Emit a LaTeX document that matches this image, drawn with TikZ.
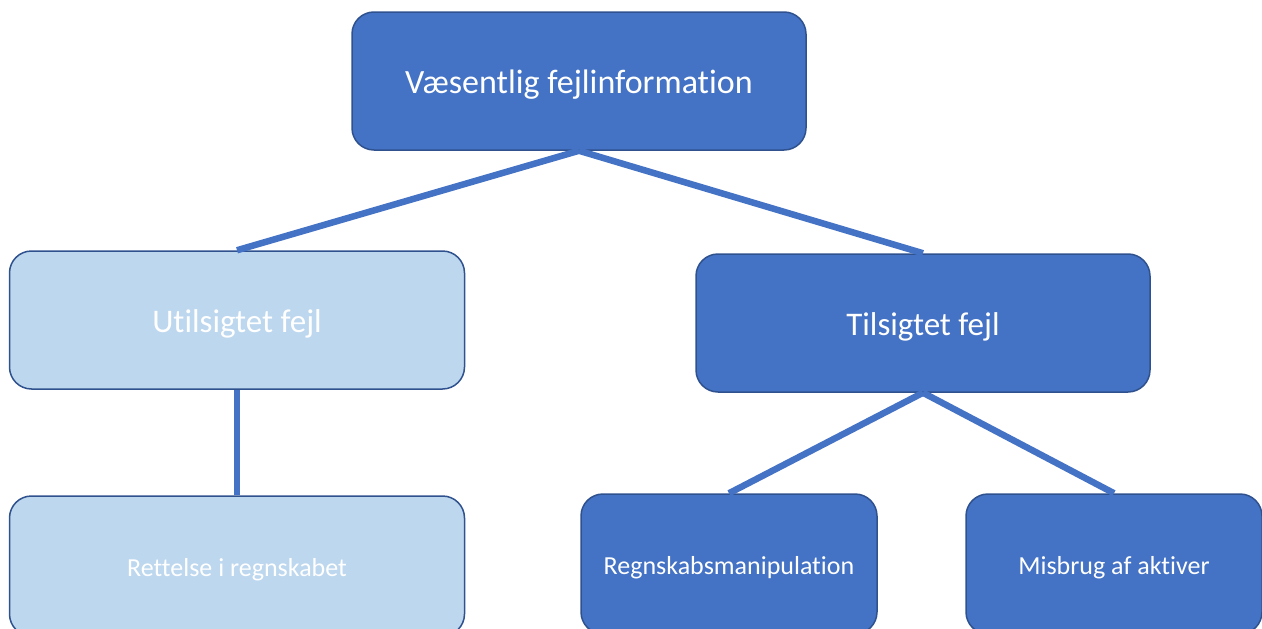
\documentclass[tikz,border=0pt]{standalone}
\usepackage{fontspec}
\setmainfont{Carlito}[Ligatures={NoCommon}]
\definecolor{dkblue}{HTML}{4472C4}
\definecolor{ltblue}{HTML}{BDD7EE}
\definecolor{edgeblue}{HTML}{2F528F}
\tikzset{
  box/.style={draw=edgeblue, line width=1.5pt, rounded corners=22pt, text=white, inner sep=0pt, anchor=center},
  bigtext/.style={font=\fontsize{34}{40}\selectfont, text height=32pt, text depth=7pt},
  midtext/.style={font=\fontsize{33}{40}\selectfont, text height=31pt, text depth=7pt},
  smalltext/.style={font=\fontsize{26}{30}\selectfont, text height=25.5pt, text depth=5.3pt},
  darkbox/.style={box, fill=dkblue},
  lightbox/.style={box, fill=ltblue},
  link/.style={draw=dkblue, line width=6.5pt},
}
\begin{document}
\begin{tikzpicture}[x=1pt,y=-1pt]
\useasboundingbox (0,0) rectangle (1262,629);
\clip (0,0) rectangle (1262,629);
\node[darkbox, bigtext, minimum width=454pt, minimum height=138pt] (top) at (579,81) {Væsentlig fejlinformation};
\node[lightbox, midtext, minimum width=455pt, minimum height=138pt] (utl) at (237,320) {Utilsigtet fejl};
\node[darkbox, midtext, minimum width=454pt, minimum height=138pt] (til) at (923,323) {Tilsigtet fejl};
\node[lightbox, smalltext, minimum width=455pt, minimum height=140pt] (ret) at (237,566) {Rettelse i regnskabet};
\node[darkbox, smalltext, minimum width=296pt, minimum height=140pt] (reg) at (729,564) {Regnskabsmanipulation};
\node[darkbox, smalltext, minimum width=296pt, minimum height=140pt] (mis) at (1114,564) {Misbrug af aktiver};
\draw[link] (top.south) -- (utl.north);
\draw[link] (top.south) -- (til.north);
\draw[link] (utl.south) -- (ret.north);
\draw[link] (til.south) -- (reg.north);
\draw[link] (til.south) -- (mis.north);
\end{tikzpicture}
\end{document}
